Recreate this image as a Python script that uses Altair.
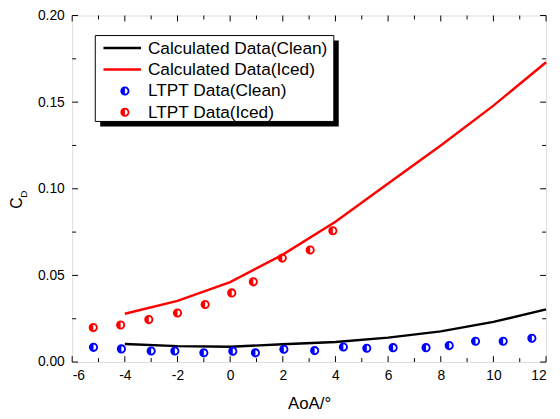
import altair as alt
import pandas as pd

# ---- data ----
calc_aoa = [-4, -2, 0, 2, 4, 6, 8, 10, 12]
calc_clean = [0.0104, 0.0092, 0.0088, 0.0103, 0.0116, 0.0141, 0.0177, 0.0232, 0.0304]
calc_iced = [0.0279, 0.0353, 0.0461, 0.0620, 0.0810, 0.1030, 0.1250, 0.1480, 0.1730]

ltpt_clean_aoa = [-5.19, -4.13, -3.0, -2.1, -1.0, 0.1, 0.96, 2.04, 3.21, 4.3, 5.19, 6.19, 7.44, 8.32, 9.32, 10.37, 11.46]
ltpt_clean = [0.0085, 0.0076, 0.0064, 0.0064, 0.0053, 0.0063, 0.0053, 0.0074, 0.0066, 0.0087, 0.0080, 0.0083, 0.0083, 0.0095, 0.0120, 0.0120, 0.0137]

ltpt_iced_aoa = [-5.2, -4.16, -3.09, -2.0, -0.95, 0.06, 0.88, 1.98, 3.04, 3.9]
ltpt_iced = [0.0199, 0.0214, 0.0245, 0.0283, 0.0332, 0.0399, 0.0463, 0.0600, 0.0647, 0.0758]

x_major = [-6, -4, -2, 0, 2, 4, 6, 8, 10, 12]
x_minor = [-5, -3, -1, 1, 3, 5, 7, 9, 11]
y_major = [0.0, 0.05, 0.10, 0.15, 0.20]
y_minor = [0.025, 0.075, 0.125, 0.175]

legend_labels = ["Calculated Data(Clean)", "Calculated Data(Iced)", "LTPT Data(Clean)", "LTPT Data(Iced)"]

W, H = 480, 351
HALF = "M-1,0 A1,1 0 1,1 1,0 A1,1 0 1,1 -1,0 Z M0,-0.6 L0,0.6 A0.6,0.6 0 0,0 0,-0.6 Z"
FONT = "Liberation Sans"

xs = alt.Scale(domain=[-6, 12], nice=False, zero=False)
ys = alt.Scale(domain=[0, 0.2], nice=False, zero=False)

one = pd.DataFrame({"d": [0]})

calc_df = pd.DataFrame({"aoa": calc_aoa, "clean": calc_clean, "iced": calc_iced})
pc_df = pd.DataFrame({"aoa": ltpt_clean_aoa, "cd": ltpt_clean})
pi_df = pd.DataFrame({"aoa": ltpt_iced_aoa, "cd": ltpt_iced})

base = alt.Chart(calc_df).mark_line(color="black", strokeWidth=2.5).encode(
    x=alt.X("aoa:Q", scale=xs, title="AoA/°",
            axis=alt.Axis(values=x_major, ticks=False, domain=False, grid=False,
                          labelExpr="'' + datum.value",
                          labelFontSize=14, labelPadding=7, labelColor="black",
                          titleFontSize=17, titleFontWeight="normal", titlePadding=13,
                          titleColor="black", labelFont=FONT, titleFont=FONT)),
    y=alt.Y("clean:Q", scale=ys, title=None,
            axis=alt.Axis(values=y_major, format=".2f", ticks=False, domain=False, grid=False,
                          labelFontSize=14, labelPadding=8, labelColor="black",
                          labelFont=FONT)),
)

iced_line = alt.Chart(calc_df).mark_line(color="#ff0000", strokeWidth=2.5).encode(
    x=alt.X("aoa:Q", scale=xs), y=alt.Y("iced:Q", scale=ys))

pts_clean = alt.Chart(pc_df).mark_point(shape=HALF, filled=True, size=85, color="#0000ff", opacity=1).encode(
    x=alt.X("aoa:Q", scale=xs), y=alt.Y("cd:Q", scale=ys))
pts_iced = alt.Chart(pi_df).mark_point(shape=HALF, filled=True, size=85, color="#ff0000", opacity=1).encode(
    x=alt.X("aoa:Q", scale=xs), y=alt.Y("cd:Q", scale=ys))

def xticks(vals, length):
    df = pd.DataFrame({"v": vals})
    b = alt.Chart(df).mark_rule(color="black", strokeWidth=1)
    return (b.encode(x=alt.X("v:Q", scale=xs), y=alt.value(H), y2=alt.value(H - length)) +
            b.encode(x=alt.X("v:Q", scale=xs), y=alt.value(0), y2=alt.value(length)))

def yticks(vals, length):
    df = pd.DataFrame({"v": vals})
    b = alt.Chart(df).mark_rule(color="black", strokeWidth=1)
    return (b.encode(y=alt.Y("v:Q", scale=ys), x=alt.value(0), x2=alt.value(length)) +
            b.encode(y=alt.Y("v:Q", scale=ys), x=alt.value(W), x2=alt.value(W - length)))

ticks = xticks(x_major, 6) + xticks(x_minor, 4) + yticks(y_major, 6) + yticks(y_minor, 4)

ytitle = (alt.Chart(one).mark_text(text="C", angle=270, fontSize=16, font=FONT, color="black",
                                   align="center", baseline="middle")
          .encode(x=alt.value(-56), y=alt.value(190)) +
          alt.Chart(one).mark_text(text="D", angle=270, fontSize=10, font=FONT, color="black",
                                   align="center", baseline="middle")
          .encode(x=alt.value(-49), y=alt.value(181)))

lx0, lx1, ly0, ly1 = 23.4, 265, 20.3, 107.3
rows = [33, 54.7, 76.4, 98]
shadow = alt.Chart(one).mark_rect(color="black").encode(
    x=alt.value(lx0 + 5), x2=alt.value(lx1 + 5), y=alt.value(ly0 + 5), y2=alt.value(ly1 + 5))
box = alt.Chart(one).mark_rect(fill="white", stroke="black", strokeWidth=1).encode(
    x=alt.value(lx0), x2=alt.value(lx1), y=alt.value(ly0), y2=alt.value(ly1))
leg_layers = [shadow, box]
leg_colors = ["black", "#ff0000", "#0000ff", "#ff0000"]
for i, (lab, col) in enumerate(zip(legend_labels, leg_colors)):
    if i < 2:
        leg_layers.append(alt.Chart(one).mark_rule(color=col, strokeWidth=2.5).encode(
            x=alt.value(31.7), x2=alt.value(69.7), y=alt.value(rows[i])))
    else:
        leg_layers.append(alt.Chart(one).mark_point(shape=HALF, filled=True, size=85, color=col, opacity=1).encode(
            x=alt.value(53.4), y=alt.value(rows[i])))
    leg_layers.append(alt.Chart(one).mark_text(text=lab, fontSize=17.5, font=FONT, color="black",
                                               align="left", baseline="middle").encode(
        x=alt.value(76.7), y=alt.value(rows[i] + 0.5)))

chart = alt.layer(base, iced_line, pts_clean, pts_iced, ticks, ytitle, *leg_layers).properties(
    width=W, height=H,
    autosize=alt.AutoSizeParams(type="none"),
    padding={"left": 65, "top": 5, "right": 6, "bottom": 50},
).configure_view(stroke="black", strokeWidth=1.5).configure(background="white")

chart.save("out.html", embed_options={"renderer": "svg", "actions": False})
